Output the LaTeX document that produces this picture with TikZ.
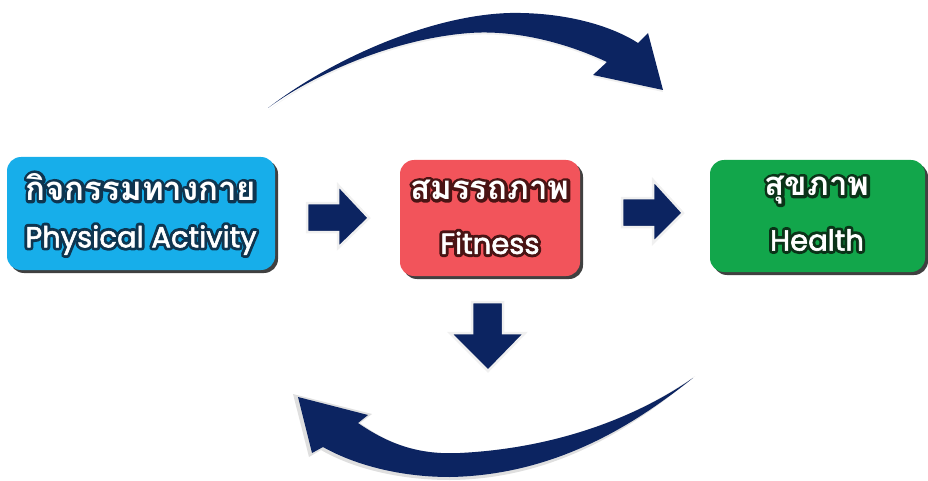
\documentclass[tikz,border=0pt]{standalone}
\usepackage{fontspec}
\setmainfont{Poppins}
\newfontfamily\enfont{Poppins}[FakeBold=2]
\newfontfamily\enol{Poppins}[FakeBold=22]
\newfontfamily\thaifont[Script=Thai]{Loma}
\newfontfamily\thaiol[Script=Thai,FakeBold=18]{Loma}
\usetikzlibrary{shadows}
\definecolor{navy}{HTML}{0C2461}
\definecolor{pblue}{HTML}{17AEEA}
\definecolor{pred}{HTML}{F2545B}
\definecolor{pgreen}{HTML}{12A64B}
\definecolor{olblue}{HTML}{0E3550}
\definecolor{olred}{HTML}{4A1414}
\definecolor{olgreen}{HTML}{0A3318}
\newcommand\roundjoin{\special{pdf:literal 1 j 1 J}}
\newcommand\thailine[2]{\roundjoin\fontsize{33}{36}\selectfont\bfseries\leavevmode
  \rlap{\thaiol\textcolor{#1}{#2}}{\thaifont\textcolor{white}{#2}}}
\newcommand\enline[2]{\roundjoin\fontsize{29}{32}\selectfont\leavevmode
  \rlap{\enol\textcolor{#1}{#2}}{\enfont\textcolor{white}{#2}}}
\tikzset{
  box/.style={rounded corners=14pt, inner sep=0pt,
    drop shadow={shadow xshift=3pt, shadow yshift=-3pt, fill=black, opacity=0.75}},
  label/.style={inner sep=0pt, anchor=center},
  blockarrow/.style={fill=navy, draw=gray!12, line width=2.5pt, line join=miter},
  curvearrow/.style={fill=navy},
  curveshadow/.style={fill=gray!25}
}
\begin{document}
\begin{tikzpicture}[x=1pt,y=-1pt]
\useasboundingbox (0,0) rectangle (928,481);

% boxes
\node[box, fill=pblue, minimum width=268pt, minimum height=113pt] (pa) at (141,213.5) {};
\node[box, fill=pred, minimum width=180pt, minimum height=116pt] (fit) at (490,218) {};
\node[box, fill=pgreen, minimum width=215pt, minimum height=112pt] (hl) at (817.5,216) {};

% labels
\node[label] (paT) at (141,187) {\thailine{olblue}{กิจกรรมทางกาย}};
\node[label] (paE) at (141,240) {\enline{olblue}{Physical Activity}};
\node[label] (fitT) at (490,190) {\thailine{olred}{สมรรถภาพ}};
\node[label] (fitE) at (490,243) {\enline{olred}{Fitness}};
\node[label] (hlT) at (817,190) {\thailine{olgreen}{สุขภาพ}};
\node[label] (hlE) at (817,240) {\enline{olgreen}{Health}};

% block arrows
\path[blockarrow] (307,203) -- (338,203) -- (338,185) -- (369,218) -- (338,248) -- (338,232) -- (307,232) -- cycle;
\path[blockarrow] (622,198) -- (653,198) -- (653,180) -- (683,213) -- (653,243) -- (653,227) -- (622,227) -- cycle;
\path[blockarrow] (472,302) -- (503,302) -- (503,333) -- (525,333) -- (488,371) -- (450,333) -- (472,333) -- cycle;

% top curved arrow
\path[curveshadow, opacity=0.5] (269,110)
  .. controls (330,62) and (430,17) .. (510,15)
  .. controls (570,14) and (615,30) .. (638,45)
  -- (648,35) -- (663,92) -- (593,77) -- (607,64)
  .. controls (560,42) and (510,32) .. (470,35)
  .. controls (400,40) and (320,72) .. (269,110) -- cycle;
\path[curvearrow] (268,108)
  .. controls (330,60) and (430,15) .. (510,13)
  .. controls (570,12) and (615,28) .. (638,43)
  -- (648,33) -- (663,90) -- (593,75) -- (607,62)
  .. controls (560,40) and (510,30) .. (470,33)
  .. controls (400,38) and (320,70) .. (268,108) -- cycle;

% bottom curved arrow
\path[curveshadow] (695,376)
  .. controls (640,422) and (560,479) .. (450,480)
  .. controls (398,480) and (352,468) .. (321,450)
  -- (309,457) -- (293,394) -- (372,414) -- (360,423)
  .. controls (390,445) and (420,455) .. (460,453)
  .. controls (560,448) and (640,415) .. (695,376) -- cycle;
\path[curvearrow] (693,378)
  .. controls (640,420) and (560,475) .. (450,477)
  .. controls (400,477) and (355,465) .. (323,447)
  -- (312,453) -- (298,397) -- (368,415) -- (358,423)
  .. controls (390,445) and (420,455) .. (460,453)
  .. controls (560,448) and (640,415) .. (693,378) -- cycle;
\end{tikzpicture}
\end{document}
